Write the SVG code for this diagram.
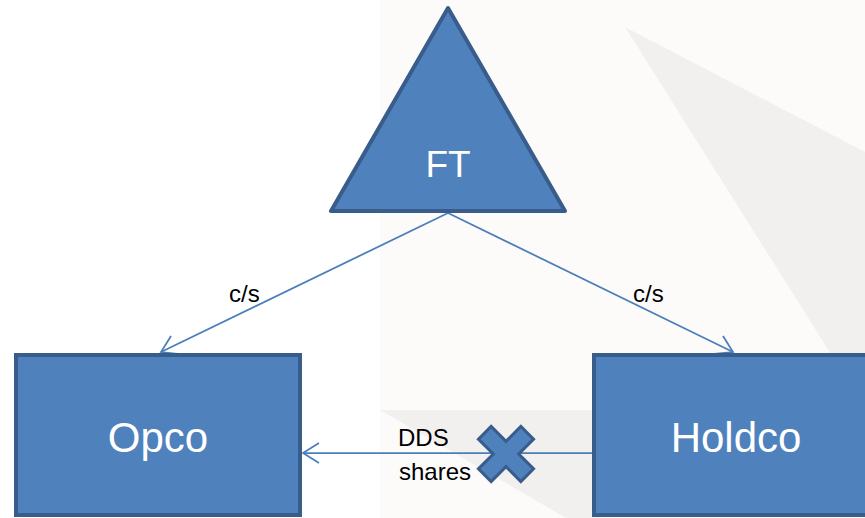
<svg xmlns="http://www.w3.org/2000/svg" width="865" height="518" viewBox="0 0 865 518">
<style>
.node{fill:#4f81bd;stroke:#385d8a;stroke-width:4}
.big{font-family:"Liberation Sans",Arial,sans-serif;fill:#ffffff;text-anchor:middle}
.lbl{font-family:"Liberation Sans",Arial,sans-serif;font-size:24px;fill:#000000}
.conn{fill:none;stroke:#4a7ebb;stroke-width:1.75}
</style>
<defs>
<marker id="arr" viewBox="-18 -12 20 24" refX="0" refY="0" markerWidth="20" markerHeight="24" markerUnits="userSpaceOnUse" orient="auto">
<path d="M-16,-10 L0,0 L-16,10" fill="none" stroke="#4a7ebb" stroke-width="1.75"/>
</marker>
</defs>
<g id="background">
<rect x="0" y="0" width="865" height="518" fill="#ffffff"/>
<rect x="380" y="0" width="485" height="518" fill="#fcfbfa"/>
<polygon points="625,27 865,152 865,408" fill="#f1f0ef"/>
<polygon points="380,410 600,410 600,518 566,518" fill="#f1f0ef"/>
</g>
<g id="connectors">
<line class="conn" x1="448" y1="213" x2="161" y2="352" marker-end="url(#arr)"/>
<line class="conn" x1="448" y1="213" x2="733" y2="352" marker-end="url(#arr)"/>
<line class="conn" x1="594" y1="453" x2="303" y2="453" marker-end="url(#arr)"/>
<text class="lbl" x="229" y="302">c/s</text>
<text class="lbl" x="633" y="302">c/s</text>
<text class="lbl" x="398" y="446">DDS</text>
<text class="lbl" x="399" y="480">shares</text>
</g>
<g id="ft">
<polygon class="node" points="448,8 331,211 565,211" stroke-linejoin="round"/>
<text class="big" x="448" y="177" font-size="37">FT</text>
</g>
<g id="opco">
<rect class="node" x="16" y="355" width="284" height="160"/>
<text class="big" x="158" y="452" font-size="42">Opco</text>
</g>
<g id="holdco">
<rect class="node" x="594" y="355" width="284" height="160"/>
<text class="big" x="736" y="452" font-size="42">Holdco</text>
</g>
<g id="blocked">
<polygon points="9,-30 9,-9 30,-9 30,9 9,9 9,30 -9,30 -9,9 -30,9 -30,-9 -9,-9 -9,-30" transform="translate(506,454) rotate(45)" fill="#4f81bd" stroke="#385d8a" stroke-width="3"/>
</g>
</svg>
